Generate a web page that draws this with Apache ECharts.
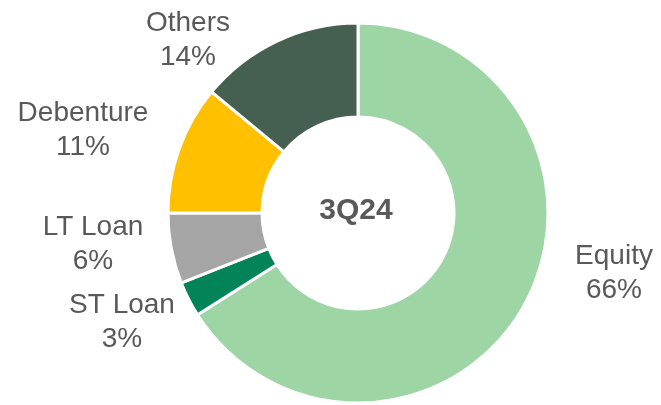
<!DOCTYPE html>
<html>
<head>
<meta charset="utf-8">
<style>
  html, body { margin: 0; padding: 0; background: #fff; }
  #chart { width: 661px; height: 405px; }
</style>
<script src="https://cdn.jsdelivr.net/npm/echarts@6/dist/echarts.min.js"></script>
</head>
<body>
<div id="chart"></div>
<script>
// Funding structure, clockwise from 12 o'clock
const categories = ['Equity', 'ST Loan', 'LT Loan', 'Debenture', 'Others'];
const shares = [66, 3, 6, 11, 14];          // percent
const periodLabel = '3Q24';

const sliceColors = ['#9dd6a4', '#028358', '#a5a5a5', '#ffc000', '#455f50'];
// label anchors (block centre) for each slice label
const labelAnchors = [[614, 273], [122, 322], [93, 244], [83, 130], [188, 40]];

const chart = echarts.init(document.getElementById('chart'), null, { renderer: 'canvas' });

chart.setOption({
  animation: false,
  backgroundColor: '#ffffff',
  textStyle: { fontFamily: 'Liberation Sans, Arial, sans-serif' },
  graphic: [{
    type: 'text',
    style: {
      text: periodLabel,
      x: 356,
      y: 211,
      textAlign: 'center',
      textVerticalAlign: 'middle',
      fill: '#595959',
      font: 'bold 30px "Liberation Sans", Arial, sans-serif'
    }
  }],
  series: [{
    type: 'pie',
    center: [358, 213],
    radius: [96, 190],
    startAngle: 90,
    clockwise: true,
    avoidLabelOverlap: false,
    itemStyle: { borderColor: '#ffffff', borderWidth: 3 },
    label: {
      show: true,
      position: 'outside',
      formatter: p => p.name + '\n' + p.value + '%',
      color: '#595959',
      fontSize: 28,
      lineHeight: 34,
      align: 'center',
      fontFamily: 'Liberation Sans, Arial, sans-serif'
    },
    labelLine: { show: false },
    labelLayout: p => ({
      x: labelAnchors[p.dataIndex][0],
      y: labelAnchors[p.dataIndex][1],
      align: 'center',
      verticalAlign: 'middle'
    }),
    emphasis: { disabled: true },
    data: categories.map((c, i) => ({
      name: c,
      value: shares[i],
      itemStyle: { color: sliceColors[i] }
    }))
  }]
});
</script>
</body>
</html>
